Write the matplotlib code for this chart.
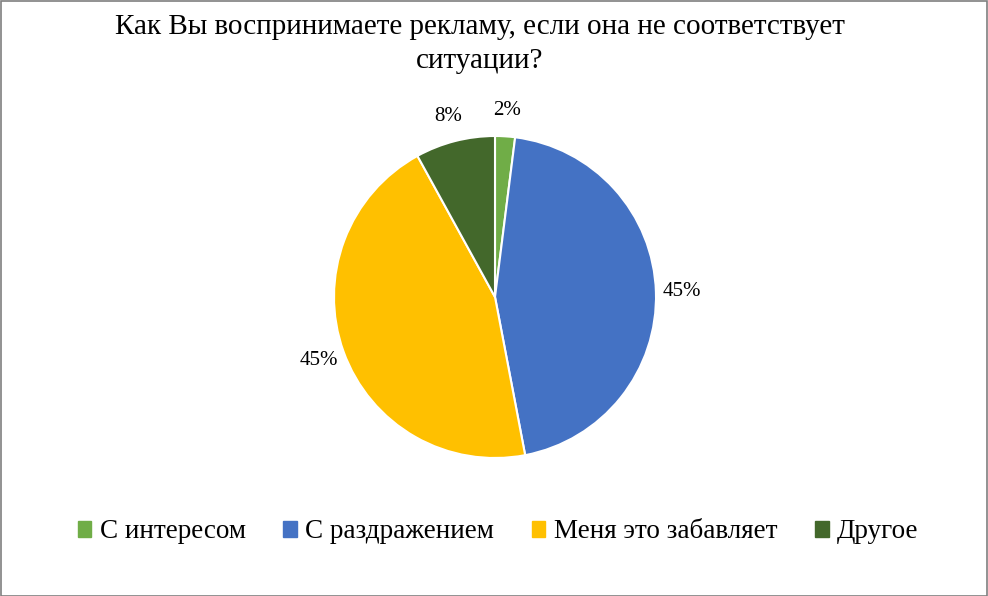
import matplotlib.pyplot as plt
from matplotlib.patches import Rectangle

categories = ['С интересом', 'С раздражением', 'Меня это забавляет', 'Другое']
values = [2, 45, 45, 8]
colors = ['#70AD47', '#4472C4', '#FFC000', '#43682B']
title = 'Как Вы воспринимаете рекламу, если она не соответствует\nситуации?'

plt.rcParams['font.family'] = ['Liberation Serif', 'DejaVu Serif']

fig = plt.figure(figsize=(9.88, 5.96), dpi=100)

# pie axes, center ~ (495, 297), radius ~161 px
ax = fig.add_axes([(495 - 161) / 988, 1 - (297 + 161) / 596, 322 / 988, 322 / 596])
wedges, texts, autotexts = ax.pie(
    values, colors=colors, startangle=90, counterclock=False,
    autopct=lambda p: f'{p:.0f}%', pctdistance=1.16, radius=1.0,
    wedgeprops=dict(edgecolor='white', linewidth=1.5),
    textprops=dict(fontsize=15, color='#000000'))
ax.set_xlim(-1, 1)
ax.set_ylim(-1, 1)
ax.set_aspect('equal')

fig.text(480 / 988, 1 - 44 / 596, title, ha='center', va='center',
         fontsize=21, linespacing=1.45)

handles = [Rectangle((0, 0), 1, 1, color=c) for c in colors]
fig.legend(handles, categories, loc='center', bbox_to_anchor=(498 / 988, 1 - 532 / 596),
           ncol=4, frameon=False, fontsize=19.5, handlelength=0.5, handleheight=0.5,
           handletextpad=0.3, columnspacing=1.4)

fig.patches.append(Rectangle((0.5 / 988, 0.5 / 596), 1 - 1.5 / 988, 1 - 1.5 / 596,
                             transform=fig.transFigure, fill=False,
                             edgecolor='#7F7F7F', linewidth=1.2))

fig.savefig('out.png', dpi=100)
